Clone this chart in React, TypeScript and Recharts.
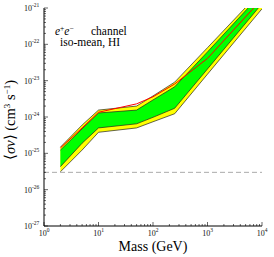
import React from 'react';
import { ComposedChart, Area, Line, XAxis, YAxis, ReferenceLine } from 'recharts';

// dark matter mass (GeV)
const masses = [2, 5, 10, 50, 100, 250, 1000, 10000];
// observed limit and expected 1σ / 2σ bands on <σv> (cm^3 s^-1)
const observed = [1.41e-25, 5.0e-25, 1.35e-24, 2.3e-24, 3.6e-24, 8.1e-24, 4.1e-23, 1.78e-21];
const upper2 = [1.48e-25, 6.0e-25, 1.55e-24, 2.0e-24, 3.8e-24, 9.1e-24, 8.1e-23, 3.1e-21];
const upper1 = [1.23e-25, 4.7e-25, 1.29e-24, 1.55e-24, 2.95e-24, 6.8e-24, 6.2e-23, 2.6e-21];
const lower1 = [4.3e-26, 1.9e-25, 5.0e-25, 6.5e-25, 9.8e-25, 1.74e-24, 2.1e-23, 1.32e-21];
const lower2 = [3.1e-26, 1.23e-25, 3.8e-25, 5.0e-25, 7.4e-25, 1.23e-24, 1.51e-23, 9.5e-22];
const thermalRelic = 3e-26;

const xDecades = [0, 1, 2, 3, 4];
const yDecades = [-27, -26, -25, -24, -23, -22, -21];

const data = masses.map((m, i) => ({
  mass: m,
  band2: [lower2[i], upper2[i]],
  band1: [lower1[i], upper1[i]],
  obs: observed[i],
}));

const logTicks = (decades: number[]) => {
  const out: number[] = [];
  decades.forEach((d, i) => {
    for (let k = 1; k <= 9; k++) {
      if (i === decades.length - 1 && k > 1) break;
      out.push(Number(`${k}e${d}`));
    }
  });
  return out;
};
const xTicks = logTicks(xDecades);
const yTicks = logTicks(yDecades);

const FONT = '"Liberation Serif", serif';

const decade = (v: number) => {
  const lg = Math.log10(v);
  const e = Math.round(lg);
  return { e, major: Math.abs(lg - e) < 1e-6 };
};

const BottomTick = ({ x, y, payload }: any) => {
  const { e, major } = decade(payload.value);
  return (
    <g>
      <line x1={x} x2={x} y1={y} y2={y - (major ? 4 : 2)} stroke="#000" strokeWidth={0.6} />
      {major && (
        <text x={x} y={y + 10} textAnchor="middle" fontSize={8} fontFamily={FONT} fill="#111">
          10<tspan dy={-4} fontSize={5.5}>{e}</tspan>
        </text>
      )}
    </g>
  );
};

const TopTick = ({ x, y, payload }: any) => {
  const { major } = decade(payload.value);
  return <line x1={x} x2={x} y1={y} y2={y + (major ? 4 : 2)} stroke="#000" strokeWidth={0.6} />;
};

const LeftTick = ({ x, y, payload }: any) => {
  const { e, major } = decade(payload.value);
  return (
    <g>
      <line x1={x} x2={x + (major ? 4 : 2)} y1={y} y2={y} stroke="#000" strokeWidth={0.6} />
      {major && (
        <text x={x - 12} y={y + 3} textAnchor="end" fontSize={8} fontFamily={FONT} fill="#111">
          10
        </text>
      )}
      {major && (
        <text x={x - 12} y={y - 1} textAnchor="start" fontSize={5.5} fontFamily={FONT} fill="#111">
          {e}
        </text>
      )}
    </g>
  );
};

const RightTick = ({ x, y, payload }: any) => {
  const { major } = decade(payload.value);
  return <line x1={x} x2={x - (major ? 4 : 2)} y1={y} y2={y} stroke="#000" strokeWidth={0.6} />;
};

export default function App() {
  return (
    <div style={{ position: 'absolute', left: 0, top: 0, width: 274, height: 257, background: '#fff' }}>
      <ComposedChart width={274} height={257} data={data} margin={{ top: 8, right: 12, bottom: 0, left: 0 }}>
        <XAxis
          dataKey="mass"
          type="number"
          scale="log"
          domain={[1, 10000]}
          ticks={xTicks}
          interval={0}
          allowDataOverflow
          height={31}
          tickSize={0}
          tickMargin={0}
          tick={<BottomTick />}
          axisLine={{ stroke: '#000', strokeWidth: 1 }}
        />
        <XAxis
          xAxisId="top"
          dataKey="mass"
          orientation="top"
          type="number"
          scale="log"
          domain={[1, 10000]}
          ticks={xTicks}
          interval={0}
          allowDataOverflow
          height={0}
          tickSize={0}
          tickMargin={0}
          tick={<TopTick />}
          axisLine={{ stroke: '#000', strokeWidth: 1 }}
        />
        <YAxis
          type="number"
          scale="log"
          domain={[1e-27, 1e-21]}
          ticks={yTicks}
          interval={0}
          allowDataOverflow
          width={44}
          tickSize={0}
          tickMargin={0}
          tick={<LeftTick />}
          axisLine={{ stroke: '#000', strokeWidth: 1 }}
        />
        <YAxis
          yAxisId="right"
          orientation="right"
          type="number"
          scale="log"
          domain={[1e-27, 1e-21]}
          ticks={yTicks}
          interval={0}
          allowDataOverflow
          width={0}
          tickSize={0}
          tickMargin={0}
          tick={<RightTick />}
          axisLine={{ stroke: '#000', strokeWidth: 1 }}
        />
        <ReferenceLine y={thermalRelic} stroke="#aaaaaa" strokeWidth={1} strokeDasharray="5 3" />
        <Area
          type="linear"
          dataKey="band2"
          fill="#ffff00"
          fillOpacity={1}
          stroke="#222"
          strokeWidth={0.7}
          isAnimationActive={false}
        />
        <Area
          type="linear"
          dataKey="band1"
          fill="#00ff00"
          fillOpacity={1}
          stroke="#222"
          strokeWidth={0.7}
          isAnimationActive={false}
        />
        <Line type="linear" dataKey="obs" stroke="#ff0000" strokeWidth={1} dot={false} isAnimationActive={false} />
      </ComposedChart>
      <svg
        width={274}
        height={257}
        style={{ position: 'absolute', left: 0, top: 0, pointerEvents: 'none' }}
        fontFamily={FONT}
      >
        <text x={55} y={35} fontSize={11.5}>
          <tspan fontStyle="italic">e</tspan>
          <tspan dy={-4} fontSize={7.5}>+</tspan>
          <tspan dy={4} fontStyle="italic">e</tspan>
          <tspan dy={-4} fontSize={7.5}>−</tspan>
          <tspan dy={4} x={91}>channel</tspan>
        </text>
        <text x={60} y={46} fontSize={11.5}>
          iso-mean, HI
        </text>
        <text
          x={15}
          y={120}
          fontSize={14.5}
          textAnchor="middle"
          transform="rotate(-90 15 120)"
        >
          ⟨<tspan fontStyle="italic">σv</tspan>⟩ (cm<tspan dy={-5} fontSize={9}>3</tspan>
          <tspan dy={5}> s</tspan>
          <tspan dy={-5} fontSize={9}>−1</tspan>
          <tspan dy={5}>)</tspan>
        </text>
        <text x={153} y={251} fontSize={14} textAnchor="middle">
          Mass (GeV)
        </text>
      </svg>
    </div>
  );
}
